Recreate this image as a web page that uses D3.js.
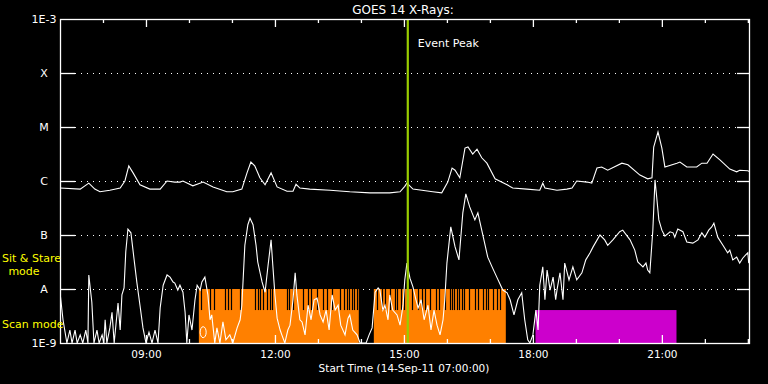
<!DOCTYPE html>
<html><head><meta charset="utf-8">
<script src="https://cdn.jsdelivr.net/npm/d3@7"></script>
<style>
html,body{margin:0;padding:0;background:#000;}
svg{display:block;}
text{font-family:"DejaVu Sans",sans-serif;}
</style></head>
<body>
<script>
// ---------- data ----------
const startHour = 7.0;
const endHour = 23.05;
const yLevels = [1e-9, 1e-8, 1e-7, 1e-6, 1e-5, 1e-4, 1e-3];
const yLabels = ["1E-9", "A", "B", "C", "M", "X", "1E-3"];
const gridLevels = [1e-8, 1e-7, 1e-6, 1e-5, 1e-4];
const majorTickHours = [9, 12, 15, 18, 21];
const majorTickLabels = ["09:00", "12:00", "15:00", "18:00", "21:00"];
const minorTickHours = [8, 10, 11, 13, 14, 16, 17, 19, 20, 22, 23];
const eventPeakHour = 15.09;

// long channel (1-8 Å): hours, log10 flux
const longTimes = [7.00,7.47,7.67,7.81,7.93,8.16,8.40,8.51,8.60,8.70,8.86,9.09,9.33,9.49,9.67,9.79,9.86,10.09,10.33,10.56,10.88,11.02,11.23,11.35,11.44,11.53,11.65,11.77,11.91,12.05,12.28,12.42,12.49,12.58,12.81,13.28,13.74,14.21,14.67,14.91,15.02,15.07,15.21,15.67,15.88,16.02,16.12,16.19,16.30,16.42,16.49,16.60,16.70,16.81,16.93,17.12,17.40,17.53,17.86,18.16,18.23,18.28,18.56,18.79,18.91,19.02,19.26,19.37,19.49,19.60,19.74,20.07,20.21,20.49,20.67,20.77,20.81,20.91,21.00,21.07,21.35,21.42,21.58,21.81,21.93,22.05,22.19,22.35,22.58,22.74,22.81,23.00,23.05];
const longLogFlux = [-6.13,-6.15,-6.04,-6.15,-6.20,-6.17,-6.13,-6.00,-5.72,-5.85,-6.07,-6.15,-6.15,-6.00,-6.02,-6.02,-6.00,-6.09,-6.02,-6.11,-6.20,-6.20,-6.15,-5.85,-5.65,-5.72,-5.94,-6.07,-5.85,-6.11,-6.19,-6.19,-6.06,-6.13,-6.15,-6.17,-6.20,-6.22,-6.22,-6.20,-6.10,-6.04,-6.15,-6.20,-6.22,-6.02,-5.76,-5.80,-5.94,-5.39,-5.37,-5.50,-5.41,-5.57,-5.67,-5.96,-6.07,-6.13,-6.15,-6.17,-6.04,-6.13,-6.17,-6.15,-6.13,-6.00,-6.02,-6.04,-5.76,-5.74,-5.80,-5.67,-5.70,-5.89,-5.96,-5.94,-5.37,-5.09,-5.39,-5.74,-5.67,-5.65,-5.74,-5.74,-5.67,-5.67,-5.50,-5.61,-5.78,-5.83,-5.80,-5.81,-5.83];

// short channel (0.5-4 Å): hours, log10 flux
const shortTimes = [7.00,7.07,7.16,7.23,7.28,7.35,7.40,7.47,7.53,7.60,7.65,7.67,7.74,7.79,7.86,7.91,7.98,8.02,8.05,8.09,8.16,8.21,8.26,8.35,8.40,8.44,8.49,8.53,8.58,8.65,8.72,8.79,8.86,8.93,9.00,9.07,9.14,9.21,9.28,9.33,9.40,9.49,9.56,9.63,9.67,9.74,9.79,9.86,9.91,9.95,10.00,10.07,10.14,10.19,10.26,10.30,10.37,10.44,10.49,10.53,10.60,10.65,10.72,10.79,10.86,10.95,11.02,11.12,11.19,11.23,11.30,11.37,11.42,11.49,11.56,11.60,11.70,11.77,11.84,11.91,11.95,12.00,12.05,12.12,12.16,12.23,12.30,12.35,12.42,12.47,12.51,12.58,12.63,12.70,12.77,12.84,12.91,12.98,13.05,13.12,13.19,13.26,13.33,13.40,13.47,13.53,13.63,13.70,13.74,13.81,13.91,13.98,14.12,14.19,14.26,14.33,14.40,14.44,14.51,14.56,14.63,14.67,14.74,14.84,14.91,14.98,15.02,15.07,15.14,15.21,15.28,15.33,15.40,15.47,15.56,15.63,15.70,15.77,15.84,15.91,15.95,16.00,16.09,16.19,16.28,16.37,16.44,16.53,16.65,16.72,16.81,16.95,17.05,17.16,17.30,17.40,17.47,17.56,17.65,17.74,17.81,17.88,17.93,18.00,18.07,18.12,18.16,18.23,18.28,18.33,18.40,18.47,18.53,18.56,18.63,18.70,18.74,18.84,18.93,19.02,19.14,19.23,19.33,19.40,19.56,19.67,19.74,19.86,20.02,20.09,20.26,20.37,20.44,20.56,20.63,20.67,20.72,20.79,20.84,20.88,20.93,21.00,21.07,21.19,21.26,21.30,21.37,21.49,21.58,21.72,21.84,21.93,22.00,22.09,22.16,22.21,22.30,22.42,22.53,22.58,22.65,22.74,22.81,22.88,22.95,23.00,23.02];
const shortLogFlux = [-8.06,-8.57,-9.0,-8.76,-9.0,-8.76,-9.0,-8.85,-9.0,-8.76,-9.0,-7.74,-8.24,-9.0,-8.76,-9.0,-8.85,-9.0,-8.57,-9.0,-8.72,-8.43,-9.0,-8.26,-8.76,-8.11,-7.98,-7.31,-6.89,-6.96,-7.43,-7.89,-8.30,-8.72,-9.0,-8.80,-9.0,-8.76,-9.0,-8.35,-7.93,-7.74,-7.78,-7.87,-7.89,-8.02,-7.93,-8.06,-8.43,-9.0,-8.48,-8.76,-8.20,-7.93,-8.02,-7.87,-7.78,-8.11,-8.57,-8.48,-9.0,-8.72,-9.0,-8.61,-8.94,-8.85,-9.0,-8.72,-8.57,-8.30,-7.19,-6.81,-6.69,-6.81,-7.19,-7.50,-7.87,-8.06,-7.56,-7.09,-7.56,-8.11,-8.54,-8.76,-8.85,-9.0,-8.76,-8.67,-8.20,-7.70,-8.11,-8.57,-8.61,-8.85,-8.30,-8.57,-8.20,-8.17,-8.48,-8.61,-8.39,-8.76,-8.11,-8.39,-8.30,-8.67,-8.85,-8.54,-8.48,-8.76,-8.85,-9.0,-9.0,-8.85,-8.72,-8.06,-7.98,-8.02,-8.39,-8.30,-8.57,-8.11,-8.39,-8.48,-8.67,-8.30,-7.83,-7.52,-7.80,-7.96,-8.20,-8.35,-8.20,-8.57,-8.30,-8.76,-8.39,-8.67,-8.85,-8.57,-8.20,-7.52,-6.85,-7.22,-7.46,-6.59,-6.24,-6.48,-6.72,-6.59,-6.91,-7.41,-7.59,-7.78,-8.02,-8.07,-8.20,-8.48,-8.20,-8.07,-8.57,-8.94,-9.0,-8.85,-8.39,-8.76,-7.93,-7.59,-8.20,-7.65,-8.02,-7.78,-8.20,-8.02,-7.70,-8.20,-7.52,-7.83,-7.59,-7.83,-7.70,-7.46,-7.33,-7.22,-7.00,-7.09,-7.19,-7.09,-6.94,-6.91,-7.09,-7.28,-7.50,-7.59,-7.52,-7.65,-7.70,-6.91,-5.98,-6.30,-6.72,-6.91,-7.02,-6.94,-6.96,-7.04,-6.89,-6.94,-7.13,-7.15,-7.09,-6.96,-7.04,-6.91,-6.85,-6.78,-7.04,-7.19,-7.33,-7.28,-7.46,-7.41,-7.52,-7.43,-7.37,-7.33,-7.52];

// observing modes: [start hour, end hour]
const sitStareIntervals = [[10.23, 13.95], [14.30, 17.37]];
const scanIntervals = [[18.06, 21.34]];
const dataGapHours = [10.28,10.49,10.58,10.84,10.91,10.98,11.19,11.53,11.60,11.65,11.72,11.81,11.88,11.93,12.28,12.33,12.42,12.65,12.77,12.84,12.98,13.12,13.21,13.33,13.51,13.60,13.67,13.72,13.79,13.84,13.91,
  14.37,14.49,14.56,14.67,14.79,14.84,14.93,15.00,15.19,15.33,15.42,15.49,15.60,15.74,15.81,15.95,16.07,16.12,16.16,16.23,16.28,16.35,16.40,16.51,16.65,16.72,16.84,16.91,16.95,17.07,17.16,17.23];
const markerHours = [10.33];

// ---------- drawing ----------
const W = 768, H = 384;
const L = 60, R = 750, T = 19, B = 343;
const svg = d3.select("body").append("svg").attr("width", W).attr("height", H);
svg.append("rect").attr("width", W).attr("height", H).attr("fill", "#000");

const x = d3.scaleLinear().domain([startHour, endHour]).range([L, R]);
const y = d3.scaleLog().domain([1e-9, 1e-3]).range([B, T]);
const yMode = d3.scaleLinear().domain([0, 1]).range([B, y(1e-8)]); // 0 = bottom, 1 = A level
const modeSplit = 0.61;

svg.append("defs").append("clipPath").attr("id", "clip")
  .append("rect").attr("x", L).attr("y", T).attr("width", R - L).attr("height", B - T);

// dotted grid
svg.append("g").selectAll("line").data(gridLevels).join("line")
  .attr("x1", L + 15).attr("x2", R - 13)
  .attr("y1", d => Math.round(y(d)) + 0.5).attr("y2", d => Math.round(y(d)) + 0.5)
  .attr("stroke", "#fff").attr("stroke-width", 1).attr("stroke-dasharray", "1,5");

// mode bands
const modes = svg.append("g").attr("clip-path", "url(#clip)");
modes.selectAll("rect.ss").data(sitStareIntervals).join("rect").attr("class", "ss")
  .attr("x", d => x(d[0])).attr("width", d => x(d[1]) - x(d[0]))
  .attr("y", yMode(1)).attr("height", yMode(0) - yMode(1))
  .attr("fill", "#ff8000");
modes.selectAll("rect.sc").data(scanIntervals).join("rect").attr("class", "sc")
  .attr("x", d => x(d[0])).attr("width", d => x(d[1]) - x(d[0]))
  .attr("y", yMode(modeSplit)).attr("height", yMode(0) - yMode(modeSplit))
  .attr("fill", "#cc00cc");
modes.selectAll("line.gap").data(dataGapHours).join("line").attr("class", "gap")
  .attr("x1", d => Math.round(x(d)) + 0.5).attr("x2", d => Math.round(x(d)) + 0.5)
  .attr("y1", yMode(1)).attr("y2", yMode(modeSplit))
  .attr("stroke", "#000").attr("stroke-width", 1.2);
modes.selectAll("ellipse").data(markerHours).join("ellipse")
  .attr("cx", d => x(d)).attr("cy", yMode(0.2)).attr("rx", 3).attr("ry", 5.5)
  .attr("fill", "none").attr("stroke", "#fff").attr("stroke-width", 1);

// curves
const line = d3.line().x(d => x(d[0])).y(d => y(Math.pow(10, d[1])));
const longData = longTimes.map((t, i) => [t, longLogFlux[i]]);
const shortData = shortTimes.map((t, i) => [t, shortLogFlux[i]]);
const curves = svg.append("g").attr("clip-path", "url(#clip)");
[longData, shortData].forEach(dat => {
  curves.append("path").datum(dat).attr("d", line)
    .attr("fill", "none").attr("stroke", "#fff").attr("stroke-width", 1.1)
    .attr("stroke-linejoin", "miter");
});

// event peak line
svg.append("line")
  .attr("x1", x(eventPeakHour)).attr("x2", x(eventPeakHour))
  .attr("y1", T).attr("y2", B)
  .attr("stroke", "#99cc00").attr("stroke-width", 2.2);
svg.append("text").attr("x", x(eventPeakHour) + 10).attr("y", 47)
  .attr("fill", "#fff").attr("font-size", 11).text("Event Peak");

// frame
svg.append("rect").attr("x", L + 0.5).attr("y", T + 0.5)
  .attr("width", R - L - 1).attr("height", B - T)
  .attr("fill", "none").attr("stroke", "#fff").attr("stroke-width", 1.3);

// axes
function styleAxis(g) {
  g.select(".domain").remove();
  g.selectAll(".tick line").attr("stroke", "#fff").attr("stroke-width", 1.3);
  g.selectAll("text").attr("fill", "#fff").attr("font-family", "DejaVu Sans, sans-serif");
}
const yAxisL = svg.append("g").attr("transform", `translate(${L},0)`)
  .call(d3.axisLeft(y).tickValues(yLevels).tickFormat((d, i) => yLabels[i]).tickSize(-15).tickPadding(0));
styleAxis(yAxisL);
yAxisL.selectAll("text").attr("text-anchor", "middle").attr("x", -16).attr("font-size", 11);
yAxisL.selectAll(".tick").filter(d => d === 1e-9 || d === 1e-3).select("line").remove();

const yAxisR = svg.append("g").attr("transform", `translate(${R},0)`)
  .call(d3.axisRight(y).tickValues(gridLevels).tickFormat("").tickSize(-13));
styleAxis(yAxisR);

const xAxisB = svg.append("g").attr("transform", `translate(0,${B})`)
  .call(d3.axisBottom(x).tickValues(majorTickHours).tickFormat((d, i) => majorTickLabels[i]).tickSize(-8).tickPadding(8));
styleAxis(xAxisB);
xAxisB.selectAll("text").attr("font-size", 10.5);
const xAxisBm = svg.append("g").attr("transform", `translate(0,${B})`)
  .call(d3.axisBottom(x).tickValues(minorTickHours).tickFormat("").tickSize(-4));
styleAxis(xAxisBm);

const xAxisT = svg.append("g").attr("transform", `translate(0,${T})`)
  .call(d3.axisTop(x).tickValues(majorTickHours).tickFormat("").tickSize(-8));
styleAxis(xAxisT);
const xAxisTm = svg.append("g").attr("transform", `translate(0,${T})`)
  .call(d3.axisTop(x).tickValues(minorTickHours).tickFormat("").tickSize(-4));
styleAxis(xAxisTm);

// titles
svg.append("text").attr("x", 403).attr("y", 14).attr("text-anchor", "middle")
  .attr("fill", "#fff").attr("font-size", 12).text("GOES 14 X-Rays:");
svg.append("text").attr("x", 404).attr("y", 372).attr("text-anchor", "middle")
  .attr("fill", "#fff").attr("font-size", 10.5).text("Start Time (14-Sep-11 07:00:00)");

// mode labels
svg.append("text").attr("x", 2).attr("y", 262).attr("fill", "#ffff00").attr("font-size", 11).text("Sit & Stare");
svg.append("text").attr("x", 24).attr("y", 275).attr("text-anchor", "middle").attr("fill", "#ffff00").attr("font-size", 11).text("mode");
svg.append("text").attr("x", 2).attr("y", 328).attr("fill", "#ffff00").attr("font-size", 11).text("Scan mode");
</script>
</body></html>
